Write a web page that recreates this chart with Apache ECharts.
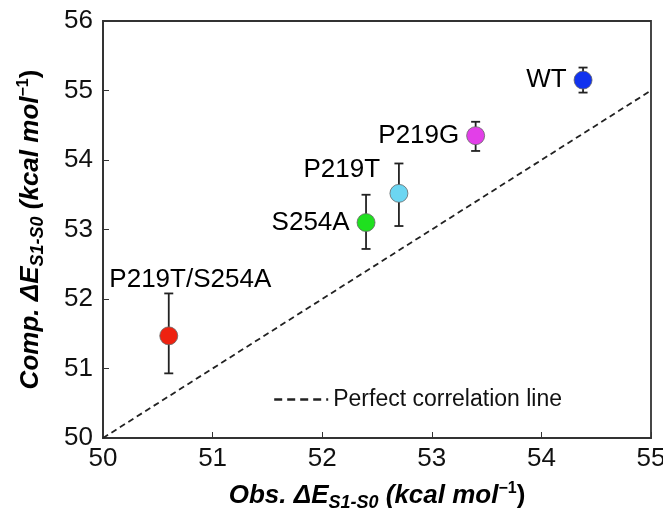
<!DOCTYPE html>
<html>
<head>
<meta charset="utf-8">
<script src="https://cdn.jsdelivr.net/npm/echarts@6/dist/echarts.min.js"></script>
<style>
  html, body { margin: 0; padding: 0; background: #fff; }
  #main { width: 663px; height: 518px; }
</style>
</head>
<body>
<div id="main"></div>
<script>
var chartDom = document.getElementById('main');
var myChart = echarts.init(chartDom);
var option;

// variants, observed vs computed energies (kcal/mol)
const names = ['WT', 'P219G', 'P219T', 'S254A', 'P219T/S254A'];
const obsValues = [54.38, 53.40, 52.70, 52.40, 50.60];
const compValues = [55.15, 54.35, 53.52, 53.10, 51.47];
const errLow = [54.97, 54.13, 53.05, 52.72, 50.93];
const errHigh = [55.33, 54.55, 53.95, 53.50, 52.08];
const colors = ['#1133ee', '#e23fe8', '#6cd6f2', '#1fe01f', '#ee2211'];
const labelPos = ['left', 'left', [-86, -27], 'left', [-50, -60]];

const perfectLine = [[50, 50], [55, 55]];

const fontFam = 'Liberation Sans, Arial, sans-serif';

function getScatterData()
{
  return names.map((n, i) => {
    return {
      name: n,
      value: [obsValues[i], compValues[i]],
      itemStyle: { color: colors[i] },
      label: { position: labelPos[i] }
    };
  });
}

function getErrorData()
{
  return names.map((n, i) => [obsValues[i], errLow[i], errHigh[i]]);
}

function renderErrorBar(params, api)
{
  const x = api.value(0);
  const lo = api.coord([x, api.value(1)]);
  const hi = api.coord([x, api.value(2)]);
  const cap = 4.5;
  const style = { stroke: '#222', lineWidth: 1.8 };
  return {
    type: 'group',
    children: [
      { type: 'line', shape: { x1: lo[0], y1: lo[1], x2: hi[0], y2: hi[1] }, style: style },
      { type: 'line', shape: { x1: lo[0] - cap, y1: lo[1], x2: lo[0] + cap, y2: lo[1] }, style: style },
      { type: 'line', shape: { x1: hi[0] - cap, y1: hi[1], x2: hi[0] + cap, y2: hi[1] }, style: style }
    ]
  };
}

const nameRich = {
  b: { fontSize: 26, fontWeight: 'bold', fontStyle: 'italic', fontFamily: fontFam, color: '#000' },
  sub: { fontSize: 18, fontWeight: 'bold', fontStyle: 'italic', fontFamily: fontFam, color: '#000', padding: [14, 0, 0, 0] },
  sup: { fontSize: 16, fontWeight: 'bold', fontFamily: fontFam, color: '#000', padding: [0, 0, 14, 0] },
  n: { fontSize: 26, fontWeight: 'bold', fontFamily: fontFam, color: '#000' }
};

option = {
  animation: false,
  grid: {
    left: 103,
    right: 12,
    top: 21,
    bottom: 80,
    outerBoundsMode: 'none',
    show: true,
    borderColor: '#333',
    borderWidth: 1.8,
    backgroundColor: 'transparent'
  },
  legend: {
    data: ['Perfect correlation line'],
    left: 268,
    top: 383,
    itemWidth: 54,
    itemHeight: 12,
    itemGap: 8,
    itemStyle: { opacity: 0 },
    lineStyle: { width: 2.4, type: [8, 5], color: '#222', opacity: 1 },
    textStyle: { fontSize: 23, fontFamily: fontFam, color: '#111' }
  },
  xAxis: {
    type: 'value',
    min: 50,
    max: 55,
    interval: 1,
    name: '{b|Obs. ΔE}{sub|S1-S0}{b| (kcal mol}{sup|−1}{n|)}',
    nameLocation: 'middle',
    nameGap: 42,
    nameTextStyle: { rich: nameRich },
    axisLine: { show: true, lineStyle: { color: '#333', width: 1.8 } },
    axisTick: { inside: true, length: 6, lineStyle: { color: '#333' } },
    axisLabel: { fontSize: 26, color: '#111', fontFamily: fontFam, margin: 8 },
    splitLine: { show: false }
  },
  yAxis: {
    type: 'value',
    min: 50,
    max: 56,
    interval: 1,
    name: '{b|Comp. ΔE}{sub|S1-S0}{b| (kcal mol}{sup|−1}{n|)}',
    nameLocation: 'middle',
    nameGap: 56,
    nameRotate: 90,
    nameTextStyle: { rich: nameRich },
    axisLine: { show: true, lineStyle: { color: '#333', width: 1.8 } },
    axisTick: { inside: true, length: 6, lineStyle: { color: '#333' } },
    axisLabel: { fontSize: 26, color: '#111', fontFamily: fontFam, margin: 10 },
    splitLine: { show: false }
  },
  series: [
    {
      name: 'Perfect correlation line',
      type: 'line',
      data: perfectLine,
      symbol: 'none',
      itemStyle: { color: '#222' },
      lineStyle: { color: '#222', type: [6, 4], width: 1.8 },
      z: 1
    },
    {
      name: 'errors',
      type: 'custom',
      renderItem: renderErrorBar,
      data: getErrorData(),
      encode: { x: 0, y: [1, 2] },
      z: 2
    },
    {
      name: 'variants',
      type: 'scatter',
      data: getScatterData(),
      symbolSize: 18,
      itemStyle: { borderColor: '#666', borderWidth: 0.8, opacity: 1 },
      label: {
        show: true,
        formatter: '{b}',
        fontSize: 26,
        color: '#000',
        fontFamily: fontFam,
        distance: 7
      },
      z: 3
    }
  ]
};

option && myChart.setOption(option);
</script>
</body>
</html>
